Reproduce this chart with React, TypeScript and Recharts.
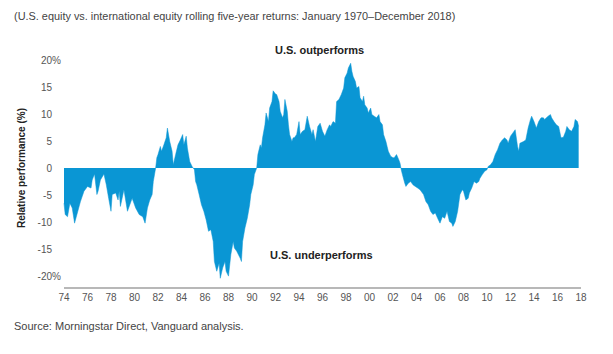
import { Area, AreaChart, XAxis, YAxis } from "recharts";

// rolling five-year relative return, U.S. minus international (%)
const years = [
  1974.0, 1974.1, 1974.3, 1974.5, 1974.7, 1974.9, 1975.1, 1975.4, 1975.7, 1976.0,
  1976.3, 1976.4, 1976.6, 1976.8, 1976.9, 1977.1, 1977.4, 1977.6, 1977.8, 1978.0,
  1978.1, 1978.4, 1978.6, 1978.7, 1978.8, 1979.1, 1979.4, 1979.6, 1979.8, 1980.1,
  1980.4, 1980.7, 1980.9, 1981.1, 1981.3, 1981.5, 1981.6, 1981.8, 1981.9, 1982.0,
  1982.2, 1982.3, 1982.5, 1982.7, 1982.8, 1983.0, 1983.2, 1983.3, 1983.5, 1983.7,
  1983.9, 1984.1, 1984.2, 1984.4, 1984.5, 1984.7, 1984.9, 1985.1, 1985.2, 1985.3,
  1985.5, 1985.7, 1985.9, 1986.1, 1986.3, 1986.5, 1986.7, 1986.8, 1987.0, 1987.2,
  1987.3, 1987.5, 1987.7, 1987.8, 1988.0, 1988.2, 1988.4, 1988.5, 1988.7, 1989.0,
  1989.1, 1989.2, 1989.4, 1989.6, 1989.8, 1989.9, 1990.1, 1990.2, 1990.4, 1990.5,
  1990.7, 1990.8, 1990.9, 1991.1, 1991.2, 1991.4, 1991.5, 1991.7, 1991.8, 1992.0,
  1992.1, 1992.3, 1992.4, 1992.6, 1992.7, 1992.8, 1993.0, 1993.1, 1993.2, 1993.4,
  1993.5, 1993.6, 1993.8, 1994.0, 1994.1, 1994.3, 1994.5, 1994.7, 1994.9, 1995.1,
  1995.2, 1995.4, 1995.6, 1995.8, 1996.0, 1996.2, 1996.4, 1996.6, 1996.7, 1996.9,
  1997.1, 1997.2, 1997.4, 1997.6, 1997.8, 1997.9, 1998.1, 1998.2, 1998.4, 1998.5,
  1998.6, 1998.8, 1998.9, 1999.1, 1999.2, 1999.4, 1999.5, 1999.6, 1999.8, 1999.9,
  2000.1, 2000.2, 2000.4, 2000.6, 2000.8, 2000.9, 2001.1, 2001.2, 2001.4, 2001.5,
  2001.6, 2001.8, 2002.0, 2002.1, 2002.3, 2002.5, 2002.6, 2002.7, 2002.8, 2003.0,
  2003.1, 2003.3, 2003.5, 2003.7, 2003.9, 2004.1, 2004.3, 2004.6, 2004.8, 2005.0,
  2005.2, 2005.4, 2005.6, 2005.8, 2006.0, 2006.2, 2006.4, 2006.6, 2006.8, 2007.0,
  2007.1, 2007.3, 2007.5, 2007.7, 2007.9, 2008.0, 2008.2, 2008.4, 2008.5, 2008.7,
  2008.9, 2009.1, 2009.3, 2009.4, 2009.6, 2009.8, 2010.0, 2010.1, 2010.3, 2010.5,
  2010.7, 2010.9, 2011.1, 2011.3, 2011.5, 2011.7, 2011.8, 2012.0, 2012.2, 2012.4,
  2012.6, 2012.7, 2012.8, 2013.1, 2013.3, 2013.5, 2013.7, 2013.8, 2014.0, 2014.2,
  2014.4, 2014.6, 2014.8, 2014.9, 2015.2, 2015.4, 2015.5, 2015.7, 2015.9, 2016.1,
  2016.3, 2016.5, 2016.7, 2016.8, 2017.0, 2017.2, 2017.4, 2017.5, 2017.7, 2017.8,
];

const relative = [
  -6.5, -8.6, -9.0, -6.5, -7.4, -10.2, -8.6, -6.2, -4.3, -3.4,
  -3.7, -2.2, -1.1, -4.9, -4.3, -2.2, -1.1, -3.1, -5.6, -8.0,
  -4.9, -4.6, -5.9, -4.3, -7.1, -4.0, -8.0, -6.8, -5.6, -7.4,
  -8.6, -9.0, -10.2, -7.4, -5.9, -4.9, -2.5, 0, 1.9, 2.5,
  4.0, 3.1, 4.3, 5.6, 7.4, 4.9, 3.1, 0.6, 2.5, 4.3,
  5.2, 6.2, 4.3, 5.9, 3.7, 1.2, 0.3, -0.3, -2.5, -3.1,
  -4.9, -6.8, -8.0, -9.6, -11.7, -11.4, -13.6, -17.3, -19.1, -17.6,
  -20.4, -18.5, -17.3, -19.1, -20.0, -16.0, -13.6, -14.8, -15.4, -16.7,
  -17.3, -13.6, -11.1, -9.3, -6.8, -4.9, -3.1, -1.2, 0, 2.5,
  4.3, 3.7, 5.6, 8.0, 10.2, 8.6, 11.1, 12.3, 14.3, 13.7,
  13.6, 12.3, 10.5, 9.3, 9.9, 12.7, 10.5, 8.0, 6.2, 4.9,
  5.6, 5.6, 6.2, 8.6, 6.2, 6.8, 7.1, 9.6, 7.7, 6.2,
  7.1, 4.9, 7.7, 8.3, 6.8, 5.9, 7.1, 8.0, 7.7, 8.6,
  8.3, 12.3, 12.7, 13.6, 14.8, 16.7, 17.6, 18.5, 19.4, 17.9,
  17.0, 16.0, 14.8, 15.1, 13.0, 12.3, 13.3, 11.7, 11.1, 10.2,
  11.1, 9.9, 9.6, 9.3, 9.9, 8.6, 8.0, 6.2, 4.9, 4.0,
  3.1, 2.2, 1.9, 1.9, 2.5, 1.5, 0.9, -0.3, -1.2, -2.8,
  -3.4, -2.8, -2.5, -3.1, -3.4, -3.7, -4.0, -4.9, -6.2, -6.8,
  -8.0, -8.6, -8.3, -9.3, -10.2, -9.0, -9.3, -8.0, -9.9, -10.2,
  -10.8, -9.9, -8.0, -4.9, -4.0, -4.3, -5.9, -5.6, -4.6, -3.7,
  -2.5, -2.8, -2.5, -1.9, -1.2, -0.6, -0.3, 0.3, 0.6, 1.2,
  2.5, 3.4, 4.6, 5.2, 5.6, 5.2, 4.6, 5.9, 6.5, 7.1,
  4.0, 3.1, 4.6, 4.9, 5.2, 7.4, 9.0, 9.6, 8.6, 7.4,
  8.6, 9.3, 9.3, 9.0, 9.6, 9.9, 9.3, 8.6, 8.0, 7.7,
  5.6, 5.7, 6.8, 7.7, 7.1, 6.8, 7.7, 9.0, 8.6, 7.7,
];

const xTicks = [
  1974, 1976, 1978, 1980, 1982, 1984, 1986, 1988, 1990, 1992, 1994, 1996,
  1998, 2000, 2002, 2004, 2006, 2008, 2010, 2012, 2014, 2016, 2018,
];
const yTicks = [-20, -15, -10, -5, 0, 5, 10, 15, 20];

const data = years.map((t, i) => ({ t, value: relative[i] }));

const FONT = "'Liberation Sans', Arial, sans-serif";
const BLUE = "#0a96d4";

function YTick({ y, payload }: any) {
  const v = payload.value as number;
  return (
    <g>
      <text x={52} y={y} dy={4} textAnchor="end" fill="#555" fontSize={10} fontFamily={FONT}>
        {v}
      </text>
      {Math.abs(v) === 20 && (
        <text x={52} y={y} dy={4} fill="#555" fontSize={10} fontFamily={FONT}>
          %
        </text>
      )}
    </g>
  );
}

export default function App() {
  return (
    <div style={{ position: "absolute", left: 0, top: 0, width: 613, height: 354, background: "#fff", fontFamily: FONT }}>
      <div style={{ position: "absolute", left: 14, top: 10, fontSize: 10.9, color: "#444", whiteSpace: "nowrap" }}>
        (U.S. equity vs. international equity rolling five-year returns: January 1970–December 2018)
      </div>
      <AreaChart width={613} height={354} data={data} margin={{ top: 60, right: 32, bottom: 46, left: 0 }}>
        <XAxis
          dataKey="t"
          type="number"
          domain={[1974, 2018]}
          ticks={xTicks}
          interval={0}
          tickFormatter={(v) => String(v % 100).padStart(2, "0")}
          tick={{ fill: "#555", fontSize: 10, fontFamily: FONT }}
          tickLine={false}
          tickSize={0}
          tickMargin={6}
          axisLine={{ stroke: "#b8b8b8", strokeWidth: 2 }}
          height={20}
        />
        <YAxis
          type="number"
          domain={[-22.2, 20]}
          ticks={yTicks}
          interval={0}
          allowDataOverflow
          axisLine={false}
          tickLine={false}
          tick={<YTick />}
          width={64}
        />
        <Area
          type="linear"
          dataKey="value"
          baseValue={0}
          stroke={BLUE}
          strokeWidth={0.5}
          fill={BLUE}
          fillOpacity={1}
          isAnimationActive={false}
          dot={false}
          activeDot={false}
        />
      </AreaChart>
      <div style={{ position: "absolute", left: 275, top: 44, fontSize: 11, fontWeight: "bold", color: "#222", whiteSpace: "nowrap" }}>
        U.S. outperforms
      </div>
      <div style={{ position: "absolute", left: 270, top: 249, fontSize: 11, fontWeight: "bold", color: "#222", whiteSpace: "nowrap" }}>
        U.S. underperforms
      </div>
      <div
        style={{
          position: "absolute",
          left: 21,
          top: 168,
          transform: "translate(-50%, -50%) rotate(-90deg)",
          fontSize: 10,
          fontWeight: "bold",
          color: "#222",
          whiteSpace: "nowrap",
        }}
      >
        Relative performance (%)
      </div>
      <div style={{ position: "absolute", left: 14, top: 320, fontSize: 11, color: "#444", whiteSpace: "nowrap" }}>
        Source: Morningstar Direct, Vanguard analysis.
      </div>
    </div>
  );
}
